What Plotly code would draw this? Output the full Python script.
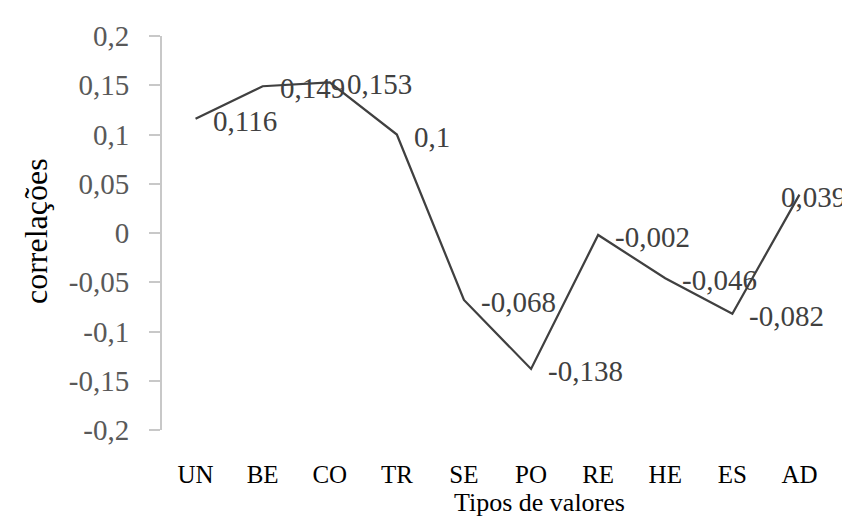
import plotly.graph_objects as go

categories = ["UN", "BE", "CO", "TR", "SE", "PO", "RE", "HE", "ES", "AD"]
values = [0.116, 0.149, 0.153, 0.1, -0.068, -0.138, -0.002, -0.046, -0.082, 0.039]
value_labels = ["0,116", "0,149", "0,153", "0,1", "-0,068", "-0,138", "-0,002", "-0,046", "-0,082", "0,039"]
y_tick_values = [0.2, 0.15, 0.1, 0.05, 0, -0.05, -0.1, -0.15, -0.2]
y_tick_labels = ["0,2", "0,15", "0,1", "0,05", "0", "-0,05", "-0,1", "-0,15", "-0,2"]

FONT = "Liberation Serif, Times New Roman, serif"

fig = go.Figure()
fig.add_trace(go.Scatter(
    x=categories, y=values, mode="lines",
    line=dict(color="#404040", width=2.25),
    hoverinfo="skip", showlegend=False,
))

last = len(categories) - 1
for i, (c, v, t) in enumerate(zip(categories, values, value_labels)):
    # the last label is pulled back inside the chart edge, as in the original
    fig.add_annotation(
        x=c, y=v, text=t, showarrow=False,
        xanchor="left", yanchor="middle",
        xshift=(-20 if i == last else 15), yshift=-2,
        font=dict(family=FONT, size=29, color="#404040"),
    )

# axis titles
fig.add_annotation(
    text="Tipos de valores", xref="paper", yref="paper",
    x=0.562, y=-0.183, xanchor="center", yanchor="middle",
    showarrow=False, font=dict(family=FONT, size=26, color="#000000"),
)
fig.add_annotation(
    text="correlações", xref="paper", yref="paper",
    x=-0.1878, y=0.505, xanchor="center", yanchor="middle", textangle=-90,
    showarrow=False, font=dict(family=FONT, size=32, color="#000000"),
)

fig.update_layout(
    width=850, height=517,
    margin=dict(l=154, r=25, t=20, b=95),
    paper_bgcolor="white", plot_bgcolor="white",
    font=dict(family=FONT),
    xaxis=dict(
        type="category", categoryorder="array", categoryarray=categories,
        range=[-0.5, 9.5], showline=False, showgrid=False, zeroline=False,
        ticks="", tickfont=dict(family=FONT, size=25, color="#000000"),
        ticklabelstandoff=27,
    ),
    yaxis=dict(
        range=[-0.2, 0.2], tickvals=y_tick_values, ticktext=y_tick_labels,
        showline=True, linecolor="#c8c8c8", linewidth=2,
        ticks="outside", ticklen=11, tickcolor="#c8c8c8", tickwidth=2,
        showgrid=False, zeroline=False,
        tickfont=dict(family=FONT, size=29, color="#595959"),
        ticklabelstandoff=14,
    ),
)

fig.write_html("out.html")
